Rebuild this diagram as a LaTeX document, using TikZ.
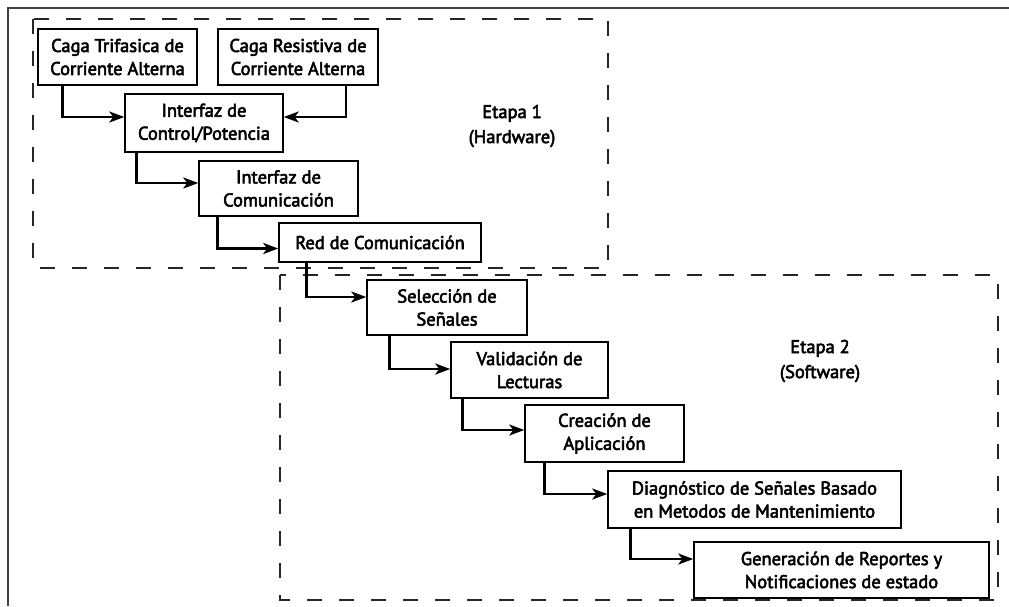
\documentclass[tikz,border=0pt]{standalone}
\usepackage{fontspec}
\setmainfont{PT Sans}
\newfontfamily\diagfont{PT Sans}[FakeBold=3]
\usetikzlibrary{arrows.meta}
\begin{document}
\begin{tikzpicture}[x=1pt,y=-1pt,
  blk/.style={draw=black,line width=1.5pt,inner sep=0pt,align=center,
    font=\diagfont\fontsize{18.5}{23}\selectfont},
  arr/.style={line width=2.5pt,-{Stealth[length=15pt,width=11pt,inset=4pt]}},
  stage/.style={draw=black!85,line width=1.8pt,dash pattern=on 15pt off 17pt},
  caption/.style={align=center,font=\diagfont\fontsize{18.5}{25}\selectfont}]
\useasboundingbox (0,0) rectangle (1009,606);
% outer frame (top and left edges only)
\draw[line width=2pt,black!75] (7.5,606) -- (7.5,7.5) -- (1009,7.5);
% stage frames
\draw[stage] (33,19) rectangle (608,268);
\draw[stage] (280,275) rectangle (998,600);
% blocks
\node[blk,minimum width=159pt,minimum height=56pt] (trif) at (117.5,57) {Caga Trifasica de\\Corriente Alterna};
\node[blk,minimum width=160pt,minimum height=56pt] (resis) at (298,57) {Caga Resistiva de\\Corriente Alterna};
\node[blk,minimum width=158pt,minimum height=58pt] (ctrl) at (204,123) {Interfaz de\\Control/Potencia};
\node[blk,minimum width=159pt,minimum height=55pt] (comi) at (278.5,188.5) {Interfaz de\\Comunicación};
\node[blk,minimum width=202pt,minimum height=39pt] (red) at (380,242.5) {Red de Comunicación};
\node[blk,minimum width=160pt,minimum height=55pt] (sel) at (447,307.5) {Selección de\\Señales};
\node[blk,minimum width=157pt,minimum height=56pt] (val) at (529.5,370) {Validación de\\Lecturas};
\node[blk,minimum width=159pt,minimum height=57pt] (cre) at (604.5,433.5) {Creación de\\Aplicación};
\node[blk,minimum width=293pt,minimum height=57pt] (diag) at (754.5,499.5) {Diagnóstico de Señales Basado\\en Metodos de Mantenimiento};
\node[blk,minimum width=295pt,minimum height=56pt] (gen) at (841.5,570) {Generación de Reportes y\\Notificaciones de estado};
% stage captions
\node[caption] (et1) at (512,126) {Etapa 1\\(Hardware)};
\node[caption] (et2) at (820,361) {Etapa 2\\(Software)};
% connectors
\draw[arr] ([xshift=25pt]trif.south west) |- ([yshift=6pt]ctrl.west);
\draw[arr] ([xshift=-33pt]resis.south east) |- ([yshift=6pt]ctrl.east);
\draw[arr] ([xshift=12pt]ctrl.south west) |- ([yshift=5.5pt]comi.west);
\draw[arr] ([xshift=19pt]comi.south west) |- ([yshift=-6pt]red.west);
\draw[arr] ([xshift=28pt]red.south west) |- ([yshift=10.5pt]sel.west);
\draw[arr] ([xshift=23pt]sel.south west) |- ([yshift=1pt]val.west);
\draw[arr] ([xshift=12pt]val.south west) |- ([yshift=3.5pt]cre.west);
\draw[arr] ([xshift=20pt]cre.south west) |- ([yshift=5.5pt]diag.west);
\draw[arr] ([xshift=23pt]diag.south west) |- ([yshift=11pt]gen.west);
\end{tikzpicture}
\end{document}
